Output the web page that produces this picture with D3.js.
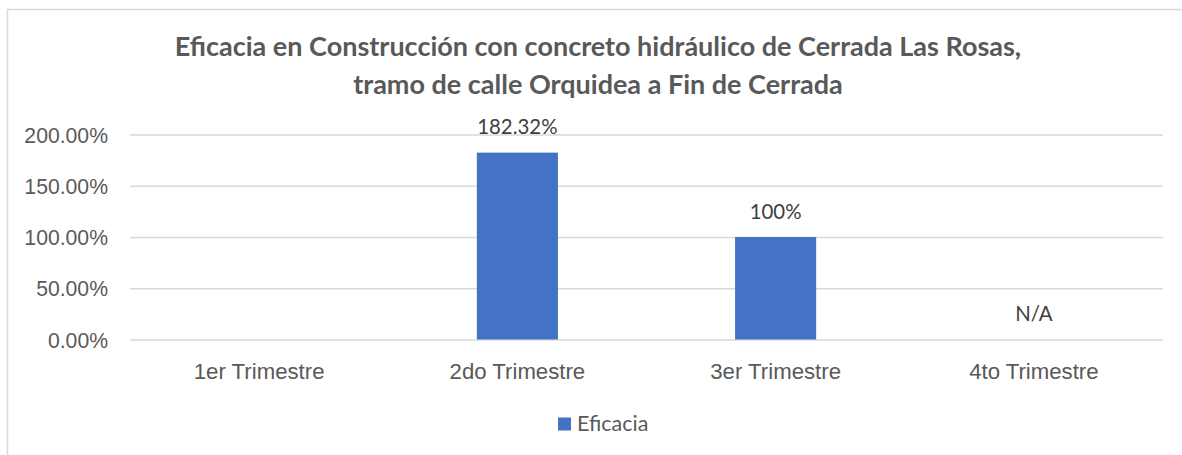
<!DOCTYPE html>
<html>
<head>
<meta charset="utf-8">
<script src="https://cdn.jsdelivr.net/npm/d3@7"></script>
<style>
  body { margin: 0; background: #fff; }
  svg { display: block; font-family: "Lato", "Open Sans", sans-serif; }
</style>
</head>
<body>
<div id="chart"></div>
<script>
// Chart data
var categories = ["1er Trimestre", "2do Trimestre", "3er Trimestre", "4to Trimestre"];
var eficacia = [null, 182.32, 100, null];
var valueLabels = ["", "182.32%", "100%", "N/A"];
var yTicks = [0, 50, 100, 150, 200];
var seriesName = "Eficacia";
var titleLines = [
  "Eficacia en Construcción con concreto hidráulico de Cerrada Las Rosas,",
  "tramo de calle Orquidea a Fin de Cerrada"
];

// svg area
var svgWidth = 1182;
var svgHeight = 455;

// plot area
var plotLeft = 130;
var plotRight = 1163;
var plotTop = 134.5;
var plotBottom = 339.5;

var svg = d3.select("#chart")
  .append("svg")
  .attr("width", svgWidth)
  .attr("height", svgHeight);

// chart border (runs off the right and bottom)
svg.append("rect")
  .attr("x", 7.5)
  .attr("y", 9.5)
  .attr("width", svgWidth + 20)
  .attr("height", svgHeight + 20)
  .attr("fill", "#fff")
  .attr("stroke", "#d9d9d9")
  .attr("stroke-width", 1.5);

// title
svg.append("g")
  .selectAll("text")
  .data(titleLines)
  .enter()
  .append("text")
  .attr("x", 598)
  .attr("y", function(d, i) { return 56 + i * 37.5; })
  .attr("text-anchor", "middle")
  .attr("font-size", 27)
  .attr("font-weight", "bold")
  .attr("fill", "#595959")
  .text(function(d) { return d; });

// scales
var xScale = d3.scaleBand()
  .domain(categories)
  .range([plotLeft, plotRight])
  .paddingInner(0.686)
  .paddingOuter(0.343);

var xCat = d3.scaleBand()
  .domain(categories)
  .range([plotLeft, plotRight]);

var yScale = d3.scaleLinear()
  .domain([0, 200])
  .range([plotBottom, plotTop]);

// gridlines + y labels
var yAxis = d3.axisLeft(yScale)
  .tickValues(yTicks)
  .tickSize(-(plotRight - plotLeft))
  .tickPadding(22)
  .tickFormat(function(d) { return d3.format(".2f")(d) + "%"; });

var yG = svg.append("g")
  .attr("transform", "translate(" + plotLeft + ",0)")
  .call(yAxis);

yG.select(".domain").remove();
yG.selectAll(".tick line")
  .attr("stroke", "#d9d9d9")
  .attr("stroke-width", 1.5);
yG.selectAll(".tick text")
  .attr("font-size", 21.2)
  .attr("fill", "#595959")
  .attr("dy", "0.36em");

// x labels
var xAxis = d3.axisBottom(xCat).tickSize(0);
var xG = svg.append("g")
  .attr("transform", "translate(0," + plotBottom + ")")
  .call(xAxis);
xG.select(".domain").remove();
xG.selectAll(".tick text")
  .attr("y", 39)
  .attr("dy", 0)
  .attr("font-size", 22.2)
  .attr("fill", "#595959");

// bars
svg.append("g")
  .selectAll("rect")
  .data(categories)
  .enter()
  .append("rect")
  .attr("x", function(d) { return xScale(d); })
  .attr("width", xScale.bandwidth())
  .attr("y", function(d, i) { return yScale(eficacia[i] || 0); })
  .attr("height", function(d, i) { return plotBottom - yScale(eficacia[i] || 0); })
  .attr("fill", "#4472c4");

// value labels
svg.append("g")
  .selectAll("text")
  .data(categories)
  .enter()
  .append("text")
  .attr("x", function(d) { return xCat(d) + xCat.bandwidth() / 2; })
  .attr("y", function(d, i) { return yScale(eficacia[i] || 0) - 18.5; })
  .attr("text-anchor", "middle")
  .attr("font-size", 20.4)
  .attr("fill", "#404040")
  .text(function(d, i) { return valueLabels[i]; });

// legend
var legend = svg.append("g");
legend.append("rect")
  .attr("x", 558)
  .attr("y", 417.5)
  .attr("width", 13)
  .attr("height", 13)
  .attr("fill", "#4472c4");
legend.append("text")
  .attr("x", 577)
  .attr("y", 431)
  .attr("font-size", 21.5)
  .attr("fill", "#595959")
  .text(seriesName);
</script>
</body>
</html>
